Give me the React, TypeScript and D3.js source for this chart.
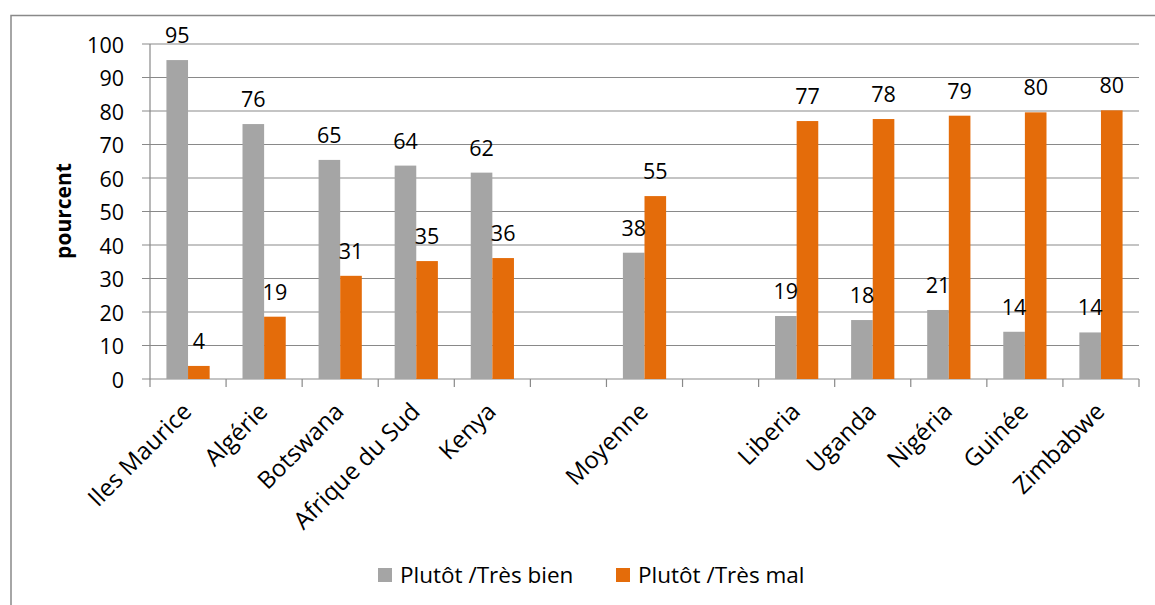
import React from "react";
import * as d3 from "d3";

const categories = [
  "Iles Maurice",
  "Algérie",
  "Botswana",
  "Afrique du Sud",
  "Kenya",
  "",
  "Moyenne",
  "",
  "Liberia",
  "Uganda",
  "Nigéria",
  "Guinée",
  "Zimbabwe",
];
const seriesNames = ["Plutôt /Très bien", "Plutôt /Très mal"];
const bienValues: (number | null)[] = [95.2, 76.1, 65.4, 63.7, 61.6, null, 37.7, null, 18.8, 17.6, 20.6, 14.1, 13.9];
const malValues: (number | null)[] = [3.9, 18.6, 30.8, 35.2, 36.1, null, 54.6, null, 77.0, 77.6, 78.6, 79.6, 80.2];
const yTicks = [0, 10, 20, 30, 40, 50, 60, 70, 80, 90, 100];
const colors = ["#A5A5A5", "#E46C0A"];

const W = 1155;
const H = 605;
const plot = { left: 150, right: 1139, top: 44, bottom: 379 };
const FONT = "'Open Sans', 'Noto Sans', sans-serif";
const axisColor = "#898989";

export default function App() {
  const idx = categories.map((_, i) => String(i));
  const x = d3.scaleBand<string>().domain(idx).range([plot.left, plot.right]).paddingInner(0).paddingOuter(0);
  const x1 = d3.scaleBand<string>().domain(seriesNames).range([0, x.bandwidth()]).paddingInner(0).paddingOuter(0.76);
  const y = d3.scaleLinear().domain([0, 100]).range([plot.bottom, plot.top]);
  const series = [bienValues, malValues];

  const boundaries = idx.map((d) => x(d)!).concat([plot.right]);

  return (
    <svg
      width={W}
      height={H}
      style={{ position: "absolute", left: 0, top: 0, background: "#fff" }}
      fontFamily={FONT}
    >
      <rect x={0} y={0} width={W} height={H} fill="#fff" />
      {/* chart border */}
      <path d={`M11,${H} L11,15.5 L${W},15.5`} fill="none" stroke={axisColor} strokeWidth={1.5} />

      {/* gridlines + y ticks */}
      {yTicks.map((t) => (
        <g key={t}>
          <line x1={plot.left - 8} x2={plot.right} y1={y(t)} y2={y(t)} stroke={axisColor} strokeWidth={1.2} />
          <text x={124} y={y(t)} textAnchor="end" dominantBaseline="central" fontSize={21.5} fill="#000">
            {t}
          </text>
        </g>
      ))}
      {/* y axis line */}
      <line x1={plot.left} x2={plot.left} y1={plot.top} y2={plot.bottom} stroke={axisColor} strokeWidth={1.2} />
      {/* x tick marks */}
      {boundaries.map((bx, i) => (
        <line key={i} x1={bx} x2={bx} y1={plot.bottom} y2={plot.bottom + 8} stroke={axisColor} strokeWidth={1.2} />
      ))}

      {/* bars */}
      {series.map((vals, si) =>
        vals.map((v, ci) =>
          v == null ? null : (
            <rect
              key={`${si}-${ci}`}
              x={x(idx[ci])! + x1(seriesNames[si])!}
              y={y(v)}
              width={x1.bandwidth()}
              height={y(0) - y(v)}
              fill={colors[si]}
            />
          )
        )
      )}

      {/* data labels */}
      {series.map((vals, si) =>
        vals.map((v, ci) =>
          v == null ? null : (
            <text
              key={`l${si}-${ci}`}
              x={x(idx[ci])! + x1(seriesNames[si])! + x1.bandwidth() / 2}
              y={y(v) - 17}
              textAnchor="middle"
              fontSize={21.5}
              fill="#000"
            >
              {Math.round(v)}
            </text>
          )
        )
      )}

      {/* x category labels */}
      {categories.map((c, i) => {
        if (!c) return null;
        const cx = x(idx[i])! + x.bandwidth() / 2 + 5;
        const cy = plot.bottom + 34;
        return (
          <text
            key={`c${i}`}
            x={cx}
            y={cy}
            textAnchor="end"
            fontSize={24}
            fill="#000"
            transform={`rotate(-45, ${cx}, ${cy})`}
          >
            {c}
          </text>
        );
      })}

      {/* y axis title */}
      <text
        x={0}
        y={0}
        transform={`translate(71, 211) rotate(-90)`}
        textAnchor="middle"
        fontSize={21}
        fontWeight="bold"
        fill="#000"
      >
        pourcent
      </text>

      {/* legend */}
      {seriesNames.map((s, i) => {
        const lx = i === 0 ? 378 : 616;
        return (
          <g key={s}>
            <rect x={lx} y={568} width={14} height={14} fill={colors[i]} />
            <text x={lx + 22} y={583} fontSize={22.5} fill="#000">
              {s}
            </text>
          </g>
        );
      })}
    </svg>
  );
}
